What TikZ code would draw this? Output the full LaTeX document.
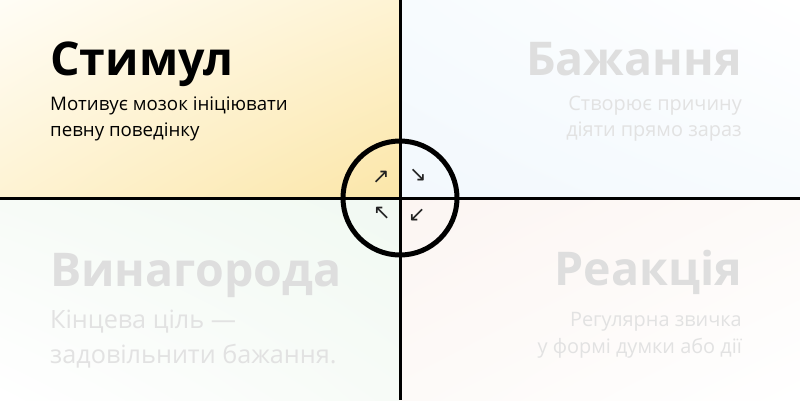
\documentclass[tikz,border=0pt]{standalone}
\usepackage{fontspec}
\usetikzlibrary{shadings}
\setmainfont{Open Sans}
\newfontfamily\arrowfont{DejaVu Sans}
\definecolor{ylwC}{HTML}{FBE6A8}
\definecolor{ylwM}{HTML}{FEF3D3}
\definecolor{ylwO}{HTML}{FFFDF6}
\definecolor{bluC}{HTML}{F2F8FD}
\definecolor{bluM}{HTML}{F7FBFE}
\definecolor{grnC}{HTML}{F1F9F2}
\definecolor{grnM}{HTML}{F7FBF7}
\definecolor{pnkC}{HTML}{FCF5F2}
\definecolor{pnkM}{HTML}{FDFAF8}
\definecolor{outerW}{HTML}{FFFFFF}
\definecolor{fadehead}{HTML}{DEDEDE}
\definecolor{fadesub}{HTML}{E2E2E2}
\definecolor{arrowgray}{HTML}{222222}
\tikzset{
  headbold/.style={font=\fontsize{46.5}{52}\selectfont\bfseries, inner sep=0pt},
  subtext/.style={font=\fontsize{18.7}{26}\selectfont, inner sep=0pt},
  fadesubtext/.style={font=\fontsize{19.9}{27}\selectfont, inner sep=0pt, text=fadesub},
  bigsub/.style={font=\fontsize{25.2}{35}\selectfont, inner sep=0pt, text=fadesub},
  divider/.style={line width=3pt, black},
  ring/.style={line width=5pt, black},
  arrowglyph/.style={font=\arrowfont\fontsize{21}{21}\selectfont, inner sep=0pt, text=arrowgray},
}
\begin{document}
\begin{tikzpicture}[x=1pt, y=-1pt]
\useasboundingbox (0,0) rectangle (800,400);
% quadrants
\shade[upper left=ylwO, upper right=ylwM, lower left=ylwM, lower right=ylwC] (0,0) rectangle (400,198);
\shade[upper left=bluM, upper right=outerW, lower left=bluC, lower right=bluM] (400,0) rectangle (800,198);
\shade[upper left=grnM, upper right=grnC, lower left=outerW, lower right=grnM] (0,198) rectangle (400,400);
\shade[upper left=pnkC, upper right=pnkM, lower left=pnkM, lower right=outerW] (400,198) rectangle (800,400);
% texts
\node[headbold, anchor=base west] (h1) at (50,75) {Стимул};
\node[subtext, anchor=base west] (s1a) at (50,110) {Мотивує мозок ініціювати};
\node[subtext, anchor=base west] (s1b) at (50,136) {певну поведінку};
\node[headbold, anchor=base east, text=fadehead] (h2) at (742,75) {Бажання};
\node[fadesubtext, anchor=base east] (s2a) at (742,110) {Створює причину};
\node[fadesubtext, anchor=base east] (s2b) at (742,136) {діяти прямо зараз};
\node[headbold, anchor=base west, text=fadehead] (h3) at (50,286) {Винагорода};
\node[bigsub, anchor=base west] (s3a) at (50,328) {Кінцева ціль —};
\node[bigsub, anchor=base west] (s3b) at (50,363) {задовільнити бажання.};
\node[headbold, anchor=base east, text=fadehead] (h4) at (742,285) {Реакція};
\node[fadesubtext, anchor=base east] (s4a) at (742,326) {Регулярна звичка};
\node[fadesubtext, anchor=base east] (s4b) at (742,353) {у формі думки або дії};
% dividers
\coordinate (top) at (400,0);
\coordinate (bottom) at (400,400);
\coordinate (left) at (0,198);
\coordinate (right) at (800,198);
\coordinate (c) at (400,198);
\draw[divider] (top) -- (bottom);
\draw[divider] (left) -- (right);
\draw[ring] (c) circle[radius=57];
% arrows
\node[arrowglyph] (a1) at (381,177) {↗};
\node[arrowglyph] (a2) at (418,175) {↘};
\node[arrowglyph] (a3) at (382,213) {↖};
\node[arrowglyph] (a4) at (417,215) {↙};
\end{tikzpicture}
\end{document}
